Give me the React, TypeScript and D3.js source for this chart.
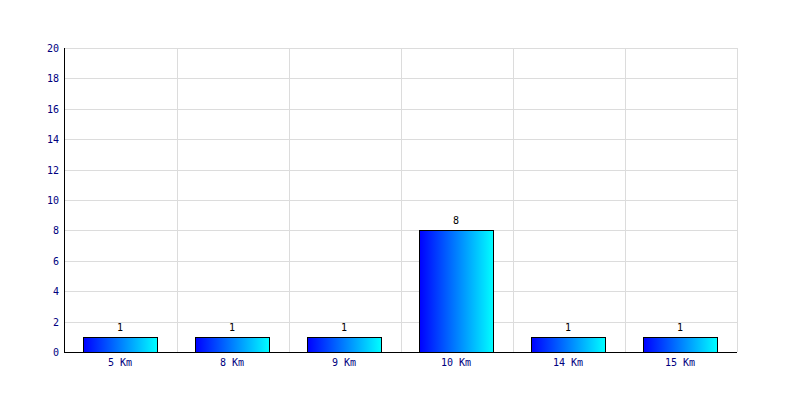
import React from "react";
import * as d3 from "d3";

const categories = ["5 Km", "8 Km", "9 Km", "10 Km", "14 Km", "15 Km"];
const values = [1, 1, 1, 8, 1, 1];
const yTicks = [0, 2, 4, 6, 8, 10, 12, 14, 16, 18, 20];

export default function App() {
  const W = 800, H = 400;
  const left = 65, right = 737, top = 48, bottom = 352;
  const x = d3.scaleBand<string>().domain(categories).range([left, right]).paddingInner(0.34).paddingOuter(0.17);
  const xb = d3.scaleBand<string>().domain(categories).range([left, right]);
  const y = d3.scaleLinear().domain([0, 20]).range([bottom, top]);
  const font = "'DejaVu Sans Mono', monospace";
  return (
    <svg width={W} height={H} style={{ position: "absolute", left: 0, top: 0, background: "#fff" }}>
      <defs>
        <linearGradient id="g" x1="0" x2="1" y1="0" y2="0">
          <stop offset="0" stopColor="#0000ff" />
          <stop offset="1" stopColor="#00ffff" />
        </linearGradient>
      </defs>
      <rect width={W} height={H} fill="#fff" />
      {yTicks.filter(t => t > 0).map(t => (
        <line key={"h" + t} x1={left} x2={right} y1={Math.round(y(t)) + 0.5} y2={Math.round(y(t)) + 0.5} stroke="#dcdcdc" />
      ))}
      {categories.map(c => (
        <line key={"v" + c} x1={Math.round(xb(c)! + xb.bandwidth()) + 0.5} x2={Math.round(xb(c)! + xb.bandwidth()) + 0.5} y1={top} y2={bottom} stroke="#dcdcdc" />
      ))}
      {categories.map((c, i) => (
        <g key={"b" + c}>
          <rect x={Math.floor(x(c)!) - 0.5} y={Math.round(y(values[i])) + 0.5} width={Math.round(x.bandwidth())} height={Math.round(y(0) - y(values[i]))} fill="url(#g)" stroke="#000" />
          <text x={x(c)! + x.bandwidth() / 2 - 1} y={y(values[i]) - 6} textAnchor="middle" fontFamily={font} fontSize={10} fill="#000">{values[i]}</text>
          <text x={x(c)! + x.bandwidth() / 2 - 1} y={bottom + 14} textAnchor="middle" fontFamily={font} fontSize={10} fill="#000080">{c}</text>
        </g>
      ))}
      <line x1={left - 0.5} x2={left - 0.5} y1={top} y2={bottom + 0.5} stroke="#000" />
      <line x1={left - 1} x2={right} y1={bottom + 0.5} y2={bottom + 0.5} stroke="#000" />
      {yTicks.map(t => (
        <text key={"t" + t} x={left - 6} y={y(t) + 4} textAnchor="end" fontFamily={font} fontSize={10} fill="#000080">{t}</text>
      ))}
    </svg>
  );
}
